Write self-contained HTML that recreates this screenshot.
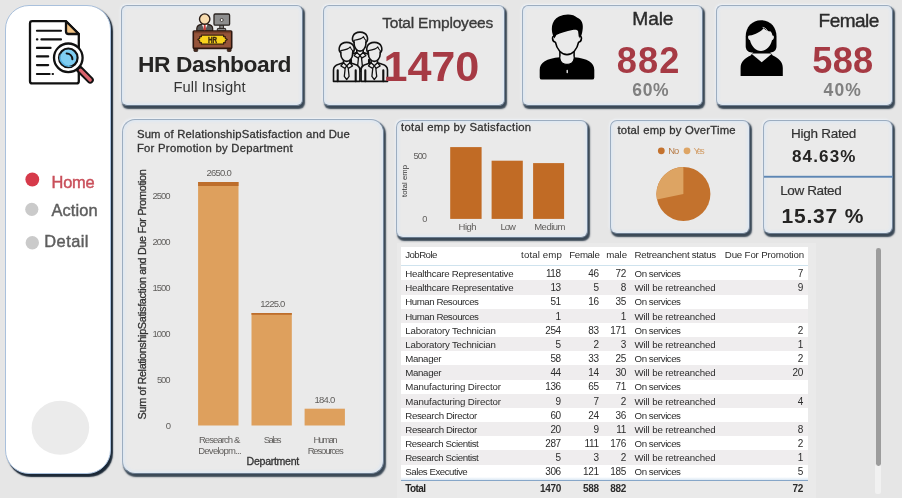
<!DOCTYPE html>
<html lang="en">
<head>
<meta charset="utf-8">
<title>HR Dashboard</title>
<style>
*{box-sizing:border-box;margin:0;padding:0}
html,body{width:902px;height:498px;overflow:hidden}
body{background:#e6e6e6;font-family:"Liberation Sans",sans-serif;color:#252423;position:relative}
.card{position:absolute;background:#eaeaea;border:1px solid;border-color:#9cadc0 #74859a #6a7b8e #9cadc0;border-radius:6px;
  box-shadow:1.8px 2.6px 1.5px 0 #3a4856, -1px -1px 2px 0 #eef2f7, inset 0 0 3px 1.5px #dce7f3}
.side{position:absolute;left:5px;top:5px;width:106px;height:469px;background:#fff;border:1px solid #a9c0dc;border-radius:24px;
  box-shadow:2px 2.5px 1.2px 0 #1b2836}
.t{position:absolute;white-space:pre;line-height:1}
.rot{transform-origin:0 0;transform:rotate(-90deg)}
svg.ov{position:absolute;left:0;top:0;width:902px;height:498px;overflow:visible;will-change:transform}
.b{position:absolute}
</style>
</head>
<body>

<!-- SIDEBAR -->
<div class="side"></div>

<!-- TOP CARDS -->
<div class="card" style="left:121px;top:5px;width:182px;height:101px"></div>
<div class="card" style="left:323px;top:5px;width:182px;height:101px"></div>
<div class="card" style="left:522px;top:5px;width:181px;height:101px"></div>
<div class="card" style="left:716px;top:5px;width:177px;height:101px"></div>

<!-- MIDDLE ROW -->
<div class="card" style="left:122px;top:119px;width:262px;height:355px;border-radius:13px"></div>
<div class="card" style="left:396px;top:120px;width:192px;height:118px;border-radius:7px"></div>
<div class="card" style="left:610px;top:120px;width:140px;height:114px;border-radius:7px"></div>
<div class="card" style="left:763px;top:120px;width:130px;height:114px;border-radius:7px"></div>

<svg class="ov" viewBox="0 0 902 498">

<!-- sidebar: nav dots + bottom circle -->
<ellipse cx="60.4" cy="427.8" rx="28.8" ry="27" fill="#ebebeb"/>
<circle cx="32.3" cy="179.5" r="6.9" fill="#d63a4a"/>
<circle cx="31.8" cy="209.3" r="6.6" fill="#cacaca"/>
<circle cx="32.3" cy="242.7" r="6.7" fill="#cacaca"/>

<!-- big chart bars -->
<rect x="198.1" y="182" width="40.4" height="243.5" fill="#dea05d"/>
<rect x="198.1" y="182" width="40.4" height="4" fill="#bd6e2c"/>
<rect x="251.5" y="313" width="40.3" height="112.5" fill="#dea05d"/>
<rect x="251.5" y="313" width="40.3" height="1.8" fill="#bd6e2c"/>
<rect x="304.6" y="408.7" width="40.3" height="16.8" fill="#dea05d"/>

<!-- satisfaction bars -->
<rect x="450.2" y="147.1" width="31.4" height="71.8" fill="#c16b25"/>
<rect x="491.6" y="160.7" width="31.2" height="58.2" fill="#c16b25"/>
<rect x="533.1" y="163.1" width="31" height="55.8" fill="#c16b25"/>

<!-- overtime pie: No 71.7% clockwise from 12 o'clock, Yes the remainder -->
<circle cx="683.4" cy="194" r="27" fill="#c3722d"/>
<path d="M683.4,194 L683.4,167 A27,27 0 0 0 657,199.6 Z" fill="#dda463"/>
<circle cx="661.3" cy="150.8" r="3.4" fill="#c4722d"/>
<circle cx="687" cy="150.8" r="3.4" fill="#dea565"/>

<!-- ratings divider -->
<rect x="764" y="175.8" width="129" height="1.9" fill="#5d86b4"/>

<!--ICONS-->
<!-- sidebar icon: document + magnifier -->
<g stroke-linecap="round" stroke-linejoin="round">
  <path d="M32.2,21.2 H66 L78.8,34 V81.2 a2.2,2.2 0 0 1 -2.2,2.2 H32.2 a2.2,2.2 0 0 1 -2.2,-2.2 V23.4 a2.2,2.2 0 0 1 2.2,-2.2 Z" fill="#fff" stroke="#111" stroke-width="2.3"/>
  <path d="M66,21.2 V31.5 a2.5,2.5 0 0 0 2.5,2.5 H78.8 Z" fill="#f2c383" stroke="#111" stroke-width="2.3"/>
  <g stroke="#111" stroke-width="2.1" fill="none">
    <path d="M36.9,30.8 H61"/>
    <path d="M36.9,39.4 H37.4 M41.4,39.4 H61"/>
    <path d="M36.9,47.9 H50.6"/>
    <path d="M36.9,56.4 H48.2"/>
    <path d="M36.9,65.1 H48.2"/>
    <path d="M36.9,74 H49.6 M52.6,74 H53"/>
  </g>
  <path d="M78.6,68.4 L90.2,80" stroke="#111" stroke-width="7.2"/>
  <path d="M80.4,70.2 L90.2,80" stroke="#d9636c" stroke-width="3.3"/>
  <circle cx="68.3" cy="57.8" r="14.3" fill="#fff" stroke="#111" stroke-width="2.3"/>
  <circle cx="68.3" cy="57.8" r="9.3" fill="#7fcdf1" stroke="#111" stroke-width="2.2"/>
  <path d="M60.6,53 A9.3,9.3 0 0 0 73,65.8 A10.5,10.5 0 0 1 60.6,53 Z" fill="#58b4e4" stroke="none"/>
  <path d="M66.6,53.4 A6,6 0 0 1 72.4,59.2" fill="none" stroke="#111" stroke-width="2"/>
</g>

<!-- HR desk icon -->
<g stroke-linejoin="round">
  <!-- monitor -->
  <rect x="219.8" y="25" width="3.6" height="4" fill="#8b8b8b" stroke="#2b2420" stroke-width="1"/>
  <rect x="217.3" y="28.4" width="8.4" height="2.6" rx=".6" fill="#8b8b8b" stroke="#2b2420" stroke-width="1"/>
  <rect x="214" y="14" width="15.6" height="11.2" rx="1.2" fill="#8e8e8e" stroke="#2b2420" stroke-width="1.3"/>
  <circle cx="221.7" cy="20" r="1.5" fill="#fff" stroke="#2b2420" stroke-width=".8"/>
  <!-- person -->
  <path d="M196.8,31 V28.6 C196.8,25.8 199,24.6 201.6,24.3 H207.8 C210.4,24.6 212.7,25.8 212.7,28.6 V31 Z" fill="#585858" stroke="#2b1d17" stroke-width="1.2"/>
  <path d="M201.9,24.4 L204.7,30.9 L207.5,24.4 Z" fill="#fff"/>
  <path d="M203.9,24.6 H205.5 L206,29.4 L204.7,30.9 L203.4,29.4 Z" fill="#c23b36"/>
  <circle cx="204.7" cy="19.1" r="5.2" fill="#f8dcae" stroke="#2b1d17" stroke-width="1.4"/>
  <!-- desk -->
  <rect x="193.9" y="47.5" width="3.8" height="4" rx=".8" fill="#4a2a1e" stroke="#2b1d17" stroke-width=".8"/>
  <rect x="227.3" y="47.5" width="3.8" height="4" rx=".8" fill="#4a2a1e" stroke="#2b1d17" stroke-width=".8"/>
  <rect x="193.3" y="31" width="38.4" height="17.4" rx=".8" fill="#96543a" stroke="#2c1710" stroke-width="1.6"/>
  <rect x="194" y="31.6" width="37" height="1.6" fill="#7b4129"/>
  <path d="M201.4,35 H223.6 V36.5 H225.3 V38.2 L227.2,39.6 L225.3,41 V42.7 H223.6 V44.2 H201.4 V42.7 H199.7 V41 L197.8,39.6 L199.7,38.2 V36.5 H201.4 Z" fill="#f8d21d" stroke="#3a2210" stroke-width="1.25"/>
  <text x="212.5" y="42.9" font-family="Liberation Sans, sans-serif" font-weight="700" font-size="9.4" fill="#3b2a12" stroke="#3b2a12" stroke-width=".35" text-anchor="middle" textLength="9.2" lengthAdjust="spacingAndGlyphs">HR</text>
</g>
<!-- people group icon -->
<g transform="translate(360,-10.3)" fill="#eaeaea" stroke="#111" stroke-width="1.6" stroke-linejoin="round" stroke-linecap="round">
  <path d="M-13.2,81.4 V70 C-13.2,66.8 -11.2,65.2 -8,64.3 L-3.2,62.7 V59.5 H3.2 V62.7 L8,64.3 C11.2,65.2 13.2,66.8 13.2,70 V81.4 Z"/>
  <path d="M-9,70.2 V81.2 M9,70.2 V81.2" fill="none" stroke-width="2.1"/>
  <path d="M-3.2,62.7 L0,65.8 L3.2,62.7 M-3.2,62.7 L-5.8,66 L-1.6,68.4 M3.2,62.7 L5.8,66 L1.6,68.4" fill="none" stroke-width="1.3"/>
  <path d="M0,65.8 L-1.5,68 L-2.4,76.4 L0,79.6 L2.4,76.4 L1.5,68 Z" stroke-width="1.3"/>
  <path d="M-5.9,52.8 C-9,50 -7.8,42.4 0,42.4 C7.8,42.4 9,50 5.9,52.8 V54 C5.9,58.2 3,61.4 0,61.4 C-3,61.4 -5.9,58.2 -5.9,54 Z"/>
  <path d="M-5.9,53 V50.6 C-3,50.2 1.6,49.6 3.5,46.9 C4.2,48.9 5,49.9 5.9,50.6 V53" fill="none" stroke-width="1.1"/>
</g>
<g transform="translate(346.7,0)" fill="#eaeaea" stroke="#111" stroke-width="1.6" stroke-linejoin="round" stroke-linecap="round">
  <path d="M-13.2,81.4 V70 C-13.2,66.8 -11.2,65.2 -8,64.3 L-3.2,62.7 V59.5 H3.2 V62.7 L8,64.3 C11.2,65.2 13.2,66.8 13.2,70 V81.4 Z"/>
  <path d="M-9,70.2 V81.2 M9,70.2 V81.2" fill="none" stroke-width="2.1"/>
  <path d="M-3.2,62.7 L0,65.8 L3.2,62.7 M-3.2,62.7 L-5.8,66 L-1.6,68.4 M3.2,62.7 L5.8,66 L1.6,68.4" fill="none" stroke-width="1.3"/>
  <path d="M0,65.8 L-1.5,68 L-2.4,76.4 L0,79.6 L2.4,76.4 L1.5,68 Z" stroke-width="1.3"/>
  <path d="M-5.9,52.8 C-9,50 -7.8,42.4 0,42.4 C7.8,42.4 9,50 5.9,52.8 V54 C5.9,58.2 3,61.4 0,61.4 C-3,61.4 -5.9,58.2 -5.9,54 Z"/>
  <path d="M-5.9,53 V50.6 C-3,50.2 1.6,49.6 3.5,46.9 C4.2,48.9 5,49.9 5.9,50.6 V53" fill="none" stroke-width="1.1"/>
</g>
<g transform="translate(374.3,0)" fill="#eaeaea" stroke="#111" stroke-width="1.6" stroke-linejoin="round" stroke-linecap="round">
  <path d="M-13.2,81.4 V70 C-13.2,66.8 -11.2,65.2 -8,64.3 L-3.2,62.7 V59.5 H3.2 V62.7 L8,64.3 C11.2,65.2 13.2,66.8 13.2,70 V81.4 Z"/>
  <path d="M-9,70.2 V81.2 M9,70.2 V81.2" fill="none" stroke-width="2.1"/>
  <path d="M-3.2,62.7 L0,65.8 L3.2,62.7 M-3.2,62.7 L-5.8,66 L-1.6,68.4 M3.2,62.7 L5.8,66 L1.6,68.4" fill="none" stroke-width="1.3"/>
  <path d="M0,65.8 L-1.5,68 L-2.4,76.4 L0,79.6 L2.4,76.4 L1.5,68 Z" stroke-width="1.3"/>
  <path d="M-5.9,52.8 C-9,50 -7.8,42.4 0,42.4 C7.8,42.4 9,50 5.9,52.8 V54 C5.9,58.2 3,61.4 0,61.4 C-3,61.4 -5.9,58.2 -5.9,54 Z"/>
  <path d="M-5.9,53 V50.6 C-3,50.2 1.6,49.6 3.5,46.9 C4.2,48.9 5,49.9 5.9,50.6 V53" fill="none" stroke-width="1.1"/>
</g>
<!-- male silhouette -->
<g>
  <path d="M541.9,79.6 a2.2,2.2 0 0 1 -2.2,-2.2 V70 C539.7,62.4 546.5,58.3 559.8,57.2 H574.2 C587.5,58.3 594.3,62.4 594.3,70 V77.4 a2.2,2.2 0 0 1 -2.2,2.2 Z" fill="#000"/>
  <path d="M559.9,52 V58 C559.9,62 563,64.3 567,64.3 C571,64.3 574.1,62 574.1,58 V52 Z" fill="#eaeaea" stroke="#000" stroke-width="1.5"/>
  <path d="M560.6,58 C560.6,61.5 563.4,63.5 567,63.5 C570.6,63.5 573.4,61.5 573.4,58 L573.4,56.5 L560.6,56.5 Z" fill="#eaeaea"/>
  <rect x="566.5" y="69.8" width="1.5" height="3.4" rx=".7" fill="#d8d8d8"/>
  <path d="M554.6,36 C551.6,35.4 551.9,41.6 555.4,42.2 C556.8,49.6 561.6,54.6 567,54.6 C572.4,54.6 577.2,49.6 578.6,42.2 C582.1,41.6 582.4,35.4 579.4,36 L579,24 L555,24 Z" fill="#eaeaea" stroke="#000" stroke-width="1.6" stroke-linejoin="round"/>
  <path d="M554.4,38.6 C550.2,31 550.8,20.5 559,16.6 C565,13.4 573.4,13.6 577.4,17.8 C581.6,19.2 583.8,24.4 582.5,30.4 C582.1,34 581,36.4 579.7,38.6 L578.3,31.6 C577.6,29.6 575.4,29.4 572.4,30 C566.4,31.2 560.4,33 556.4,35 C555.6,36.2 555,37.2 554.4,38.6 Z" fill="#000"/>
</g>

<!-- female silhouette -->
<g>
  <path d="M740.6,76 V68 C740.6,61.5 744.8,58.2 750.6,55.4 L753.4,52 H770 L772.8,55.4 C778.6,58.2 782.8,61.5 782.8,68 V76 Z" fill="#000"/>
  <path d="M751.2,53.4 L761.7,62.2 L772.2,53.4 Z" fill="#eaeaea"/>
  <path d="M761.1,20.2 C770.2,20.2 776.5,27 776.5,36.4 V46 C776.5,50.4 773.8,52.4 770.6,52.4 H751.6 C748.4,52.4 745.7,50.4 745.7,46 V36.4 C745.7,27 752,20.2 761.1,20.2 Z" fill="#000"/>
  <path d="M749.6,35.6 C747.4,34.6 747.6,39.6 750,40.2 C751.4,46.4 756,50.9 761,50.9 C766,50.9 770.6,46.4 772,40.2 C774.4,39.6 774.6,34.6 772.4,35.6 C772.2,33.6 771.6,32.6 770.8,31.4 C768,31.2 765.4,30.2 763.6,28.2 C761,31.6 755.4,34.6 749.6,35.6 Z" fill="#eaeaea"/>
  <path d="M762.6,27.4 C765.6,27.6 767.6,30 768,33" fill="none" stroke="#eaeaea" stroke-width=".8"/>
</g>
</svg>

<!-- TABLE BACKGROUND -->
<div class="b" style="left:397px;top:243px;width:419px;height:255px;background:#eaeaea"></div>
<div class="b" style="left:400.5px;top:246.5px;width:407.5px;height:233.5px;background:#fff"></div>
<div class="b" style="left:400.5px;top:280.45px;width:407.5px;height:14.3px;background:#efedee"></div>
<div class="b" style="left:400.5px;top:308.75px;width:407.5px;height:14.3px;background:#efedee"></div>
<div class="b" style="left:400.5px;top:337.05px;width:407.5px;height:14.3px;background:#efedee"></div>
<div class="b" style="left:400.5px;top:365.35px;width:407.5px;height:14.3px;background:#efedee"></div>
<div class="b" style="left:400.5px;top:393.65px;width:407.5px;height:14.3px;background:#efedee"></div>
<div class="b" style="left:400.5px;top:421.95px;width:407.5px;height:14.3px;background:#efedee"></div>
<div class="b" style="left:400.5px;top:450.25px;width:407.5px;height:14.3px;background:#efedee"></div>
<div class="b" style="left:400.5px;top:264.8px;width:407.5px;height:1px;background:#cfe3ee"></div>
<div class="b" style="left:400.5px;top:476.5px;width:407.5px;height:3.5px;background:linear-gradient(#fff,#dbe8f4)"></div>
<div class="b" style="left:400.5px;top:479.6px;width:407.5px;height:1.4px;background:#86a6c8"></div>
<div class="b" style="left:875px;top:464px;width:6.2px;height:30px;background:#f1f1f1;border-radius:2px"></div>
<div class="b" style="left:876.1px;top:247.5px;width:4.8px;height:218.5px;background:#9c9c9c;border-radius:2.4px"></div>

<!-- TEXT -->
<svg class="ov" viewBox="0 0 902 498" font-family="Liberation Sans, sans-serif">
<text x="51.5" y="187.6" font-size="16.4" fill="#c9505b" letter-spacing="-0.20" stroke="#c9505b" stroke-width="0.45">Home</text>
<text x="51.6" y="215.6" font-size="16.4" fill="#5e5e5e" letter-spacing="0.07" stroke="#5e5e5e" stroke-width="0.45">Action</text>
<text x="44.3" y="247.0" font-size="16.4" fill="#5e5e5e" letter-spacing="0.45" stroke="#5e5e5e" stroke-width="0.45">Detail</text>
<text x="138.0" y="72.1" font-size="22.8" fill="#252423" font-weight="700" letter-spacing="-0.44">HR Dashboard</text>
<text x="173.5" y="92.0" font-size="14.7" fill="#333" letter-spacing="0.09">Full Insight</text>
<text x="382.2" y="27.9" font-size="15.5" fill="#3a3a3a" letter-spacing="-0.19" stroke="#3a3a3a" stroke-width="0.35">Total Employees</text>
<text x="383.5" y="80.9" font-size="43.2" fill="#a63a44" font-weight="700" letter-spacing="-0.12">1470</text>
<text x="632.3" y="24.6" font-size="19.2" fill="#2b2b2b" letter-spacing="-0.14" stroke="#2b2b2b" stroke-width="0.4">Male</text>
<text x="616.8" y="72.9" font-size="36.2" fill="#a63a44" font-weight="700" letter-spacing="1.12">882</text>
<text x="632.3" y="95.7" font-size="17.5" fill="#808080" font-weight="700" letter-spacing="0.62">60%</text>
<text x="818.6" y="26.6" font-size="19.0" fill="#2b2b2b" letter-spacing="-0.52" stroke="#2b2b2b" stroke-width="0.4">Female</text>
<text x="812.3" y="72.5" font-size="36.2" fill="#a63a44" font-weight="700" letter-spacing="0.27">588</text>
<text x="823.6" y="95.6" font-size="17.5" fill="#808080" font-weight="700" letter-spacing="1.12">40%</text>
<text x="136.9" y="137.7" font-size="11.3" fill="#333" letter-spacing="0.20" stroke="#333" stroke-width="0.3">Sum of RelationshipSatisfaction and Due</text>
<text x="136.9" y="151.5" font-size="11.3" fill="#333" letter-spacing="0.27" stroke="#333" stroke-width="0.3">For Promotion by Department</text>
<text x="152.4" y="199.0" font-size="9.5" fill="#605e5c" letter-spacing="-0.98">2500</text>
<text x="152.4" y="244.9" font-size="9.5" fill="#605e5c" letter-spacing="-0.98">2000</text>
<text x="152.4" y="290.9" font-size="9.5" fill="#605e5c" letter-spacing="-0.98">1500</text>
<text x="152.4" y="336.8" font-size="9.5" fill="#605e5c" letter-spacing="-0.98">1000</text>
<text x="156.9" y="382.9" font-size="9.5" fill="#605e5c" letter-spacing="-1.08">500</text>
<text x="165.8" y="428.8" font-size="9.5" fill="#605e5c">0</text>
<text x="206.6" y="175.5" font-size="9.5" fill="#605e5c" letter-spacing="-0.79">2650.0</text>
<text x="260.2" y="307.4" font-size="9.5" fill="#605e5c" letter-spacing="-0.79">1225.0</text>
<text x="314.5" y="403.2" font-size="9.5" fill="#605e5c" letter-spacing="-0.75">184.0</text>
<text x="198.9" y="442.9" font-size="9.5" fill="#605e5c" letter-spacing="-0.92">Research &amp;</text>
<text x="198.2" y="453.5" font-size="9.5" fill="#605e5c" letter-spacing="-0.73">Developm...</text>
<text x="263.8" y="442.9" font-size="9.5" fill="#605e5c" letter-spacing="-1.53">Sales</text>
<text x="313.4" y="442.9" font-size="9.5" fill="#605e5c" letter-spacing="-1.59">Human</text>
<text x="307.7" y="453.5" font-size="9.5" fill="#605e5c" letter-spacing="-1.18">Resources</text>
<text x="246.6" y="465.0" font-size="10.6" fill="#333" letter-spacing="-0.30" stroke="#333" stroke-width="0.3">Department</text>
<text x="146.2" y="419.4" font-size="10.9" fill="#333" letter-spacing="-0.38" stroke="#333" stroke-width="0.3" transform="rotate(-90 146.2 419.4)">Sum of RelationshipSatisfaction and Due For Promotion</text>
<text x="407.1" y="197.0" font-size="7.6" fill="#333" letter-spacing="0.09" transform="rotate(-90 407.1 197.0)">total emp</text>
<text x="401.0" y="131.1" font-size="11.3" fill="#333" letter-spacing="0.29" stroke="#333" stroke-width="0.3">total emp by Satisfaction</text>
<text x="413.6" y="158.9" font-size="9.2" fill="#605e5c" letter-spacing="-1.01">500</text>
<text x="422.2" y="222.0" font-size="9.2" fill="#605e5c">0</text>
<text x="458.6" y="230.3" font-size="9.5" fill="#605e5c" letter-spacing="-0.55">High</text>
<text x="500.6" y="230.3" font-size="9.5" fill="#605e5c" letter-spacing="-1.08">Low</text>
<text x="534.2" y="230.3" font-size="9.5" fill="#605e5c" letter-spacing="-0.49">Medium</text>
<text x="617.4" y="134.0" font-size="11.3" fill="#333" letter-spacing="0.22" stroke="#333" stroke-width="0.3">total emp by OverTime</text>
<text x="668.2" y="154.0" font-size="9.4" fill="#b67a45" letter-spacing="-0.87">No</text>
<text x="693.5" y="154.0" font-size="9.4" fill="#d3a06c" letter-spacing="-2.05">Yes</text>
<text x="791.0" y="138.1" font-size="13.5" fill="#333" letter-spacing="-0.25" stroke="#333" stroke-width="0.2">High Rated</text>
<text x="792.0" y="161.5" font-size="17.0" fill="#252423" font-weight="700" letter-spacing="1.15">84.63%</text>
<text x="780.2" y="194.7" font-size="13.5" fill="#333" letter-spacing="-0.37" stroke="#333" stroke-width="0.2">Low Rated</text>
<text x="781.4" y="222.8" font-size="21.0" fill="#252423" font-weight="700" letter-spacing="0.84">15.37 %</text>
<text x="405.3" y="257.6" font-size="9.7" fill="#2c2c2c" letter-spacing="-0.58">JobRole</text>
<text x="521.1" y="257.6" font-size="9.7" fill="#2c2c2c" letter-spacing="0.11">total emp</text>
<text x="569.3" y="257.6" font-size="9.7" fill="#2c2c2c" letter-spacing="-0.36">Female</text>
<text x="606.2" y="257.6" font-size="9.7" fill="#2c2c2c" letter-spacing="-0.04">male</text>
<text x="634.6" y="257.6" font-size="9.7" fill="#2c2c2c" letter-spacing="-0.29">Retreanchent status</text>
<text x="724.8" y="257.6" font-size="9.7" fill="#2c2c2c" letter-spacing="-0.16">Due For Promotion</text>
<text x="405.3" y="277.1" font-size="9.7" fill="#2c2c2c" letter-spacing="-0.27">Healthcare Representative</text>
<text x="545.9" y="277.1" font-size="10.0" fill="#2c2c2c" letter-spacing="-0.35">118</text>
<text x="588.2" y="277.1" font-size="10.0" fill="#2c2c2c" letter-spacing="-0.35">46</text>
<text x="615.5" y="277.1" font-size="10.0" fill="#2c2c2c" letter-spacing="-0.35">72</text>
<text x="634.6" y="277.1" font-size="9.7" fill="#2c2c2c" letter-spacing="-0.48">On services</text>
<text x="797.7" y="277.1" font-size="10.0" fill="#2c2c2c" letter-spacing="-0.35">7</text>
<text x="405.3" y="291.3" font-size="9.7" fill="#2c2c2c" letter-spacing="-0.27">Healthcare Representative</text>
<text x="550.4" y="291.3" font-size="10.0" fill="#2c2c2c" letter-spacing="-0.35">13</text>
<text x="593.4" y="291.3" font-size="10.0" fill="#2c2c2c" letter-spacing="-0.35">5</text>
<text x="620.7" y="291.3" font-size="10.0" fill="#2c2c2c" letter-spacing="-0.35">8</text>
<text x="634.6" y="291.3" font-size="9.7" fill="#2c2c2c" letter-spacing="-0.14">Will be retreanched</text>
<text x="797.7" y="291.3" font-size="10.0" fill="#2c2c2c" letter-spacing="-0.35">9</text>
<text x="405.3" y="305.4" font-size="9.7" fill="#2c2c2c" letter-spacing="-0.47">Human Resources</text>
<text x="550.4" y="305.4" font-size="10.0" fill="#2c2c2c" letter-spacing="-0.35">51</text>
<text x="588.2" y="305.4" font-size="10.0" fill="#2c2c2c" letter-spacing="-0.35">16</text>
<text x="615.5" y="305.4" font-size="10.0" fill="#2c2c2c" letter-spacing="-0.35">35</text>
<text x="634.6" y="305.4" font-size="9.7" fill="#2c2c2c" letter-spacing="-0.48">On services</text>
<text x="405.3" y="319.6" font-size="9.7" fill="#2c2c2c" letter-spacing="-0.47">Human Resources</text>
<text x="555.6" y="319.6" font-size="10.0" fill="#2c2c2c" letter-spacing="-0.35">1</text>
<text x="620.7" y="319.6" font-size="10.0" fill="#2c2c2c" letter-spacing="-0.35">1</text>
<text x="634.6" y="319.6" font-size="9.7" fill="#2c2c2c" letter-spacing="-0.14">Will be retreanched</text>
<text x="405.3" y="333.7" font-size="9.7" fill="#2c2c2c" letter-spacing="-0.20">Laboratory Technician</text>
<text x="545.2" y="333.7" font-size="10.0" fill="#2c2c2c" letter-spacing="-0.35">254</text>
<text x="588.2" y="333.7" font-size="10.0" fill="#2c2c2c" letter-spacing="-0.35">83</text>
<text x="610.3" y="333.7" font-size="10.0" fill="#2c2c2c" letter-spacing="-0.35">171</text>
<text x="634.6" y="333.7" font-size="9.7" fill="#2c2c2c" letter-spacing="-0.48">On services</text>
<text x="797.7" y="333.7" font-size="10.0" fill="#2c2c2c" letter-spacing="-0.35">2</text>
<text x="405.3" y="347.9" font-size="9.7" fill="#2c2c2c" letter-spacing="-0.20">Laboratory Technician</text>
<text x="555.6" y="347.9" font-size="10.0" fill="#2c2c2c" letter-spacing="-0.35">5</text>
<text x="593.4" y="347.9" font-size="10.0" fill="#2c2c2c" letter-spacing="-0.35">2</text>
<text x="620.7" y="347.9" font-size="10.0" fill="#2c2c2c" letter-spacing="-0.35">3</text>
<text x="634.6" y="347.9" font-size="9.7" fill="#2c2c2c" letter-spacing="-0.14">Will be retreanched</text>
<text x="797.7" y="347.9" font-size="10.0" fill="#2c2c2c" letter-spacing="-0.35">1</text>
<text x="405.3" y="362.1" font-size="9.7" fill="#2c2c2c" letter-spacing="-0.35">Manager</text>
<text x="550.4" y="362.1" font-size="10.0" fill="#2c2c2c" letter-spacing="-0.35">58</text>
<text x="588.2" y="362.1" font-size="10.0" fill="#2c2c2c" letter-spacing="-0.35">33</text>
<text x="615.5" y="362.1" font-size="10.0" fill="#2c2c2c" letter-spacing="-0.35">25</text>
<text x="634.6" y="362.1" font-size="9.7" fill="#2c2c2c" letter-spacing="-0.48">On services</text>
<text x="797.7" y="362.1" font-size="10.0" fill="#2c2c2c" letter-spacing="-0.35">2</text>
<text x="405.3" y="376.2" font-size="9.7" fill="#2c2c2c" letter-spacing="-0.35">Manager</text>
<text x="550.4" y="376.2" font-size="10.0" fill="#2c2c2c" letter-spacing="-0.35">44</text>
<text x="588.2" y="376.2" font-size="10.0" fill="#2c2c2c" letter-spacing="-0.35">14</text>
<text x="615.5" y="376.2" font-size="10.0" fill="#2c2c2c" letter-spacing="-0.35">30</text>
<text x="634.6" y="376.2" font-size="9.7" fill="#2c2c2c" letter-spacing="-0.14">Will be retreanched</text>
<text x="792.5" y="376.2" font-size="10.0" fill="#2c2c2c" letter-spacing="-0.35">20</text>
<text x="405.3" y="390.4" font-size="9.7" fill="#2c2c2c" letter-spacing="-0.11">Manufacturing Director</text>
<text x="545.2" y="390.4" font-size="10.0" fill="#2c2c2c" letter-spacing="-0.35">136</text>
<text x="588.2" y="390.4" font-size="10.0" fill="#2c2c2c" letter-spacing="-0.35">65</text>
<text x="615.5" y="390.4" font-size="10.0" fill="#2c2c2c" letter-spacing="-0.35">71</text>
<text x="634.6" y="390.4" font-size="9.7" fill="#2c2c2c" letter-spacing="-0.48">On services</text>
<text x="405.3" y="404.5" font-size="9.7" fill="#2c2c2c" letter-spacing="-0.11">Manufacturing Director</text>
<text x="555.6" y="404.5" font-size="10.0" fill="#2c2c2c" letter-spacing="-0.35">9</text>
<text x="593.4" y="404.5" font-size="10.0" fill="#2c2c2c" letter-spacing="-0.35">7</text>
<text x="620.7" y="404.5" font-size="10.0" fill="#2c2c2c" letter-spacing="-0.35">2</text>
<text x="634.6" y="404.5" font-size="9.7" fill="#2c2c2c" letter-spacing="-0.14">Will be retreanched</text>
<text x="797.7" y="404.5" font-size="10.0" fill="#2c2c2c" letter-spacing="-0.35">4</text>
<text x="405.3" y="418.7" font-size="9.7" fill="#2c2c2c" letter-spacing="-0.39">Research Director</text>
<text x="550.4" y="418.7" font-size="10.0" fill="#2c2c2c" letter-spacing="-0.35">60</text>
<text x="588.2" y="418.7" font-size="10.0" fill="#2c2c2c" letter-spacing="-0.35">24</text>
<text x="615.5" y="418.7" font-size="10.0" fill="#2c2c2c" letter-spacing="-0.35">36</text>
<text x="634.6" y="418.7" font-size="9.7" fill="#2c2c2c" letter-spacing="-0.48">On services</text>
<text x="405.3" y="432.9" font-size="9.7" fill="#2c2c2c" letter-spacing="-0.39">Research Director</text>
<text x="550.4" y="432.9" font-size="10.0" fill="#2c2c2c" letter-spacing="-0.35">20</text>
<text x="593.4" y="432.9" font-size="10.0" fill="#2c2c2c" letter-spacing="-0.35">9</text>
<text x="616.2" y="432.9" font-size="10.0" fill="#2c2c2c" letter-spacing="-0.35">11</text>
<text x="634.6" y="432.9" font-size="9.7" fill="#2c2c2c" letter-spacing="-0.14">Will be retreanched</text>
<text x="797.7" y="432.9" font-size="10.0" fill="#2c2c2c" letter-spacing="-0.35">8</text>
<text x="405.3" y="447.0" font-size="9.7" fill="#2c2c2c" letter-spacing="-0.43">Research Scientist</text>
<text x="545.2" y="447.0" font-size="10.0" fill="#2c2c2c" letter-spacing="-0.35">287</text>
<text x="584.5" y="447.0" font-size="10.0" fill="#2c2c2c" letter-spacing="-0.35">111</text>
<text x="610.3" y="447.0" font-size="10.0" fill="#2c2c2c" letter-spacing="-0.35">176</text>
<text x="634.6" y="447.0" font-size="9.7" fill="#2c2c2c" letter-spacing="-0.48">On services</text>
<text x="797.7" y="447.0" font-size="10.0" fill="#2c2c2c" letter-spacing="-0.35">2</text>
<text x="405.3" y="461.2" font-size="9.7" fill="#2c2c2c" letter-spacing="-0.43">Research Scientist</text>
<text x="555.6" y="461.2" font-size="10.0" fill="#2c2c2c" letter-spacing="-0.35">5</text>
<text x="593.4" y="461.2" font-size="10.0" fill="#2c2c2c" letter-spacing="-0.35">3</text>
<text x="620.7" y="461.2" font-size="10.0" fill="#2c2c2c" letter-spacing="-0.35">2</text>
<text x="634.6" y="461.2" font-size="9.7" fill="#2c2c2c" letter-spacing="-0.14">Will be retreanched</text>
<text x="797.7" y="461.2" font-size="10.0" fill="#2c2c2c" letter-spacing="-0.35">1</text>
<text x="405.3" y="475.3" font-size="9.7" fill="#2c2c2c" letter-spacing="-0.47">Sales Executive</text>
<text x="545.2" y="475.3" font-size="10.0" fill="#2c2c2c" letter-spacing="-0.35">306</text>
<text x="583.0" y="475.3" font-size="10.0" fill="#2c2c2c" letter-spacing="-0.35">121</text>
<text x="610.3" y="475.3" font-size="10.0" fill="#2c2c2c" letter-spacing="-0.35">185</text>
<text x="634.6" y="475.3" font-size="9.7" fill="#2c2c2c" letter-spacing="-0.48">On services</text>
<text x="797.7" y="475.3" font-size="10.0" fill="#2c2c2c" letter-spacing="-0.35">5</text>
<text x="405.3" y="492.4" font-size="10.0" fill="#252423" font-weight="700" letter-spacing="-0.59">Total</text>
<text x="540.0" y="492.4" font-size="10.0" fill="#2c2c2c" font-weight="700" letter-spacing="-0.35">1470</text>
<text x="583.0" y="492.4" font-size="10.0" fill="#2c2c2c" font-weight="700" letter-spacing="-0.35">588</text>
<text x="610.3" y="492.4" font-size="10.0" fill="#2c2c2c" font-weight="700" letter-spacing="-0.35">882</text>
<text x="792.5" y="492.4" font-size="10.0" fill="#2c2c2c" font-weight="700" letter-spacing="-0.35">72</text>
</svg>
</body>
</html>
